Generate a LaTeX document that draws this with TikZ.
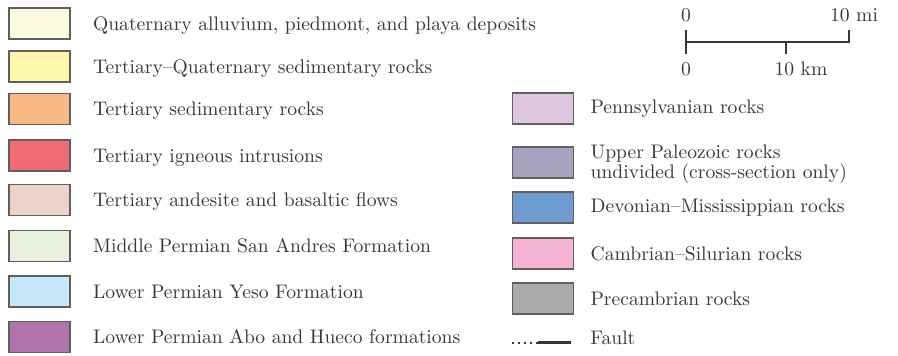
\documentclass[tikz,border=0pt]{standalone}
\usepackage{tikz}
\usetikzlibrary{positioning}

\definecolor{edgegray}{RGB}{95,95,95}
\definecolor{textgray}{RGB}{55,55,55}
\definecolor{quat}{RGB}{252,250,226}
\definecolor{tertquat}{RGB}{253,247,170}
\definecolor{tertsed}{RGB}{248,185,132}
\definecolor{tertign}{RGB}{240,107,115}
\definecolor{tertand}{RGB}{234,211,200}
\definecolor{sanandres}{RGB}{230,240,218}
\definecolor{yeso}{RGB}{197,231,247}
\definecolor{abo}{RGB}{176,115,174}
\definecolor{penn}{RGB}{222,198,224}
\definecolor{upaleo}{RGB}{166,162,191}
\definecolor{devmiss}{RGB}{110,155,208}
\definecolor{cambsil}{RGB}{245,179,212}
\definecolor{precamb}{RGB}{170,171,171}

\begin{document}
\begin{tikzpicture} [x=0.5pt, y=-0.5pt, node distance=11pt,
                    unit/.style={draw=edgegray, line width=0.7pt, inner sep=0pt,
                                 minimum width=30.5pt, minimum height=15.5pt},
                    legtext/.style={font=\fontsize{9.8}{10}\selectfont, text=textgray,
                                    inner sep=0pt, text height=0.68em, text depth=0pt, anchor=west}]

\useasboundingbox (0,0) rectangle (898,356);

% left column
\node[unit, fill=quat] (quat) at (39.5,23.5) {};
\node[unit, fill=tertquat] (tertquat) at (39.5,66.5) {};
\node[unit, fill=tertsed] (tertsed) at (39.5,109) {};
\node[unit, fill=tertign] (tertign) at (39.5,155.5) {};
\node[unit, fill=tertand] (tertand) at (39.5,200) {};
\node[unit, fill=sanandres] (sanandres) at (39.5,246) {};
\node[unit, fill=yeso] (yeso) at (39.5,291.5) {};
\node[unit, fill=abo] (abo) at (39.5,337) {};

\node[legtext, right=of quat] (quat-t) {Quaternary alluvium, piedmont, and playa deposits};
\node[legtext, right=of tertquat] (tertquat-t) {Tertiary--Quaternary sedimentary rocks};
\node[legtext, right=of tertsed] (tertsed-t) {Tertiary sedimentary rocks};
\node[legtext, right=of tertign] (tertign-t) {Tertiary igneous intrusions};
\node[legtext, right=of tertand] (tertand-t) {Tertiary andesite and basaltic flows};
\node[legtext, right=of sanandres] (sanandres-t) {Middle Permian San Andres Formation};
\node[legtext, right=of yeso] (yeso-t) {Lower Permian Yeso Formation};
\node[legtext, right=of abo] (abo-t) {Lower Permian Abo and Hueco formations};

% right column
\node[unit, fill=penn] (penn) at (543,108.5) {};
\node[unit, fill=upaleo] (upaleo) at (543,162.5) {};
\node[unit, fill=devmiss] (devmiss) at (543,207.5) {};
\node[unit, fill=cambsil] (cambsil) at (543,253.5) {};
\node[unit, fill=precamb] (precamb) at (543,298.5) {};

\node[legtext, right=8pt of penn, yshift=1pt] (penn-t) {Pennsylvanian rocks};
\node[legtext, right=8pt of upaleo, yshift=-4.75pt, align=left] (upaleo-t) {Upper Paleozoic rocks\\undivided (cross-section only)};
\node[legtext, right=8pt of devmiss, yshift=1pt] (devmiss-t) {Devonian--Mississippian rocks};
\node[legtext, right=8pt of cambsil] (cambsil-t) {Cambrian--Silurian rocks};
\node[legtext, right=8pt of precamb] (precamb-t) {Precambrian rocks};

% fault symbol
\coordinate (fault-a) at (512,343);
\coordinate (fault-b) at (538,343);
\coordinate (fault-c) at (571,343);
\draw[textgray, line width=0.9pt, dash pattern=on 0.9pt off 2.1pt] (fault-a) -- (fault-b);
\draw[textgray, line width=1.5pt] (fault-b) -- (fault-c);
\node[legtext, right=9.5pt of fault-c, yshift=2.5pt] (fault-t) {Fault};

% scale bar
\coordinate (bar0) at (686,42);
\coordinate (bar0-top) at (686,30);
\coordinate (bar0-bot) at (686,54);
\coordinate (barmi) at (849,42);
\coordinate (barmi-top) at (849,30);
\coordinate (barkm) at (786,42);
\coordinate (barkm-bot) at (786,54);

\draw[textgray, line width=0.8pt] (bar0) -- (barmi) -- (barmi-top);
\draw[textgray, line width=0.8pt] (bar0-top) -- (bar0-bot);
\draw[textgray, line width=0.8pt] (barkm) -- (barkm-bot);

\node[legtext, anchor=center] (mi-0) at (686,15) {0};
\node[legtext, anchor=center] (mi-10) at (854,15) {10 mi};
\node[legtext, anchor=center] (km-0) at (686,69) {0};
\node[legtext, anchor=center] (km-10) at (801,69) {10 km};
\end{tikzpicture}
\end{document}
